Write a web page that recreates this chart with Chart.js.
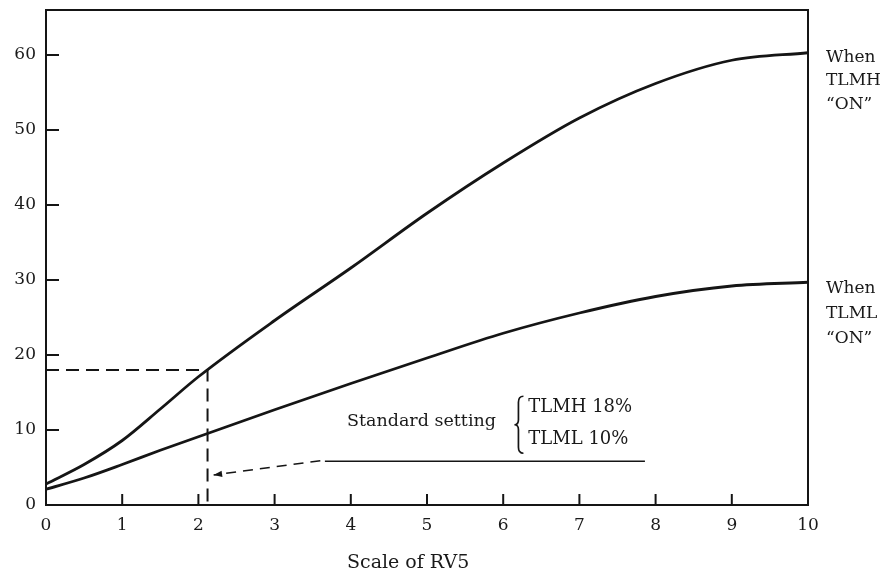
<!DOCTYPE html>
<html><head><meta charset="utf-8">
<script src="https://cdn.jsdelivr.net/npm/chart.js@4/dist/chart.umd.min.js"></script>
<style>html,body{margin:0;padding:0;background:#fff}#wrap{width:896px;height:575px;position:relative}</style>
</head><body><div id="wrap"><canvas id="c"></canvas></div>
<script>
// ---- data ----
const rv5Scale = [0, 0.5, 1, 1.5, 2, 3, 4, 5, 6, 7, 8, 9, 10];
const tlmhOn   = [2.8, 5.4, 8.6, 12.8, 17.1, 24.6, 31.6, 38.9, 45.6, 51.6, 56.2, 59.3, 60.3];
const tlmlOn   = [2.1, 3.6, 5.4, 7.3, 9.1, 12.7, 16.2, 19.6, 22.9, 25.6, 27.8, 29.2, 29.7];
const xTickValues = [0, 1, 2, 3, 4, 5, 6, 7, 8, 9, 10];
const yTickValues = [0, 10, 20, 30, 40, 50, 60];
const standardGuideX = [0, 2.12, 2.12];
const standardGuideY = [18, 18, 0];
const pointerLineX = [3.66, 7.86];
const pointerLineY = [5.84, 5.84];
const pointerArrowX = [3.6, 2.2];
const pointerArrowY = [5.9, 4.0];
const labelTLMH = ['When', 'TLMH', '\u201cON\u201d'];
const labelTLML = ['When', 'TLML', '\u201cON\u201d'];
const standardText = 'Standard setting';
const standardItems = ['TLMH 18%', 'TLML 10%'];
const xTitle = 'Scale of RV5';

const pts = (xs, ys) => xs.map((x, i) => ({x: x, y: ys[i]}));
const INK = '#151515';
const SERIF = '"DejaVu Serif", "Liberation Serif", serif';

const decor = {
  id: 'decor',
  afterDraw(chart) {
    const {ctx, chartArea: a, scales: {x, y}} = chart;
    ctx.save();
    // frame
    ctx.strokeStyle = INK; ctx.lineWidth = 2;
    ctx.strokeRect(a.left, a.top, a.right - a.left, a.bottom - a.top);
    // inward ticks
    yTickValues.forEach(v => {
      if (v === 0) return;
      const py = y.getPixelForValue(v);
      ctx.beginPath(); ctx.moveTo(a.left, py); ctx.lineTo(a.left + 13, py); ctx.stroke();
    });
    xTickValues.forEach(v => {
      if (v === 0 || v === 10) return;
      const px = x.getPixelForValue(v);
      ctx.beginPath(); ctx.moveTo(px, a.bottom); ctx.lineTo(px, a.bottom - 11); ctx.stroke();
    });
    // arrowhead on pointer
    const tx = x.getPixelForValue(pointerArrowX[1]), ty = y.getPixelForValue(pointerArrowY[1]);
    const fx = x.getPixelForValue(pointerArrowX[0]), fy = y.getPixelForValue(pointerArrowY[0]);
    const ang = Math.atan2(ty - fy, tx - fx);
    ctx.fillStyle = INK;
    ctx.beginPath();
    ctx.moveTo(tx, ty);
    ctx.lineTo(tx - 9 * Math.cos(ang - 0.35), ty - 9 * Math.sin(ang - 0.35));
    ctx.lineTo(tx - 9 * Math.cos(ang + 0.35), ty - 9 * Math.sin(ang + 0.35));
    ctx.closePath(); ctx.fill();
    // brace
    const bx = x.getPixelForValue(6.2), bt = y.getPixelForValue(14.5), bb = y.getPixelForValue(6.9);
    const bm = (bt + bb) / 2;
    ctx.lineWidth = 1.7;
    ctx.beginPath();
    ctx.moveTo(bx + 5, bt);
    ctx.quadraticCurveTo(bx, bt, bx, bt + 6);
    ctx.lineTo(bx, bm - 5);
    ctx.quadraticCurveTo(bx, bm, bx - 4, bm);
    ctx.quadraticCurveTo(bx, bm, bx, bm + 5);
    ctx.lineTo(bx, bb - 6);
    ctx.quadraticCurveTo(bx, bb, bx + 5, bb);
    ctx.stroke();
    // texts
    ctx.fillStyle = '#1a1a1a';
    ctx.textBaseline = 'middle';
    ctx.textAlign = 'left';
    ctx.font = '17.5px ' + SERIF;
    ctx.fillText(standardText, x.getPixelForValue(3.95), y.getPixelForValue(11.2));
    ctx.font = '18px ' + SERIF;
    ctx.fillText(standardItems[0], x.getPixelForValue(6.33), y.getPixelForValue(13.0));
    ctx.fillText(standardItems[1], x.getPixelForValue(6.33), y.getPixelForValue(8.8));
    ctx.font = '17px ' + SERIF;
    const rx = a.right + 18;
    labelTLMH.forEach((t, i) => ctx.fillText(t, rx, y.getPixelForValue(59.7) + i * 23.5));
    labelTLML.forEach((t, i) => ctx.fillText(t, rx, y.getPixelForValue(28.8) + i * 25));
    ctx.font = '19px ' + SERIF;
    ctx.fillText(xTitle, x.getPixelForValue(3.95), a.bottom + 58);
    ctx.restore();
  }
};

new Chart(document.getElementById('c'), {
  type: 'line',
  data: {
    datasets: [
      {label: 'TLMH ON', data: pts(rv5Scale, tlmhOn), borderColor: INK, borderWidth: 2.8,
       pointRadius: 0, cubicInterpolationMode: 'monotone', fill: false},
      {label: 'TLML ON', data: pts(rv5Scale, tlmlOn), borderColor: INK, borderWidth: 2.8,
       pointRadius: 0, cubicInterpolationMode: 'monotone', fill: false},
      {label: 'Standard', data: pts(standardGuideX, standardGuideY), borderColor: INK, borderWidth: 2,
       borderDash: [13, 7], pointRadius: 0, tension: 0, fill: false},
      {label: 'Pointer', data: pts(pointerLineX, pointerLineY), borderColor: INK, borderWidth: 1.6,
       pointRadius: 0, tension: 0, fill: false},
      {label: 'Arrow', data: pts(pointerArrowX, pointerArrowY), borderColor: INK, borderWidth: 1.6,
       borderDash: [10, 7], pointRadius: 0, tension: 0, fill: false}
    ]
  },
  options: {
    responsive: true, maintainAspectRatio: false, animation: false,
    layout: {padding: {top: 10, right: 88, left: 0, bottom: 0}},
    plugins: {legend: {display: false}, tooltip: {enabled: false}},
    scales: {
      x: {
        type: 'linear', min: 0, max: 10,
        afterFit: s => { s.height = 70; s.paddingLeft = 0; s.paddingRight = 0; },
        afterBuildTicks: s => { s.ticks = xTickValues.map(v => ({value: v})); },
        grid: {display: false, drawTicks: false},
        border: {display: false},
        ticks: {padding: 10, color: '#1a1a1a', font: {family: SERIF, size: 17}, maxRotation: 0}
      },
      y: {
        type: 'linear', min: 0, max: 66,
        afterFit: s => { s.width = 46; s.paddingTop = 0; s.paddingBottom = 0; },
        afterBuildTicks: s => { s.ticks = yTickValues.map(v => ({value: v})); },
        grid: {display: false, drawTicks: false},
        border: {display: false},
        ticks: {padding: 10, color: '#1a1a1a', font: {family: SERIF, size: 17}}
      }
    }
  },
  plugins: [decor]
});
</script></body></html>
